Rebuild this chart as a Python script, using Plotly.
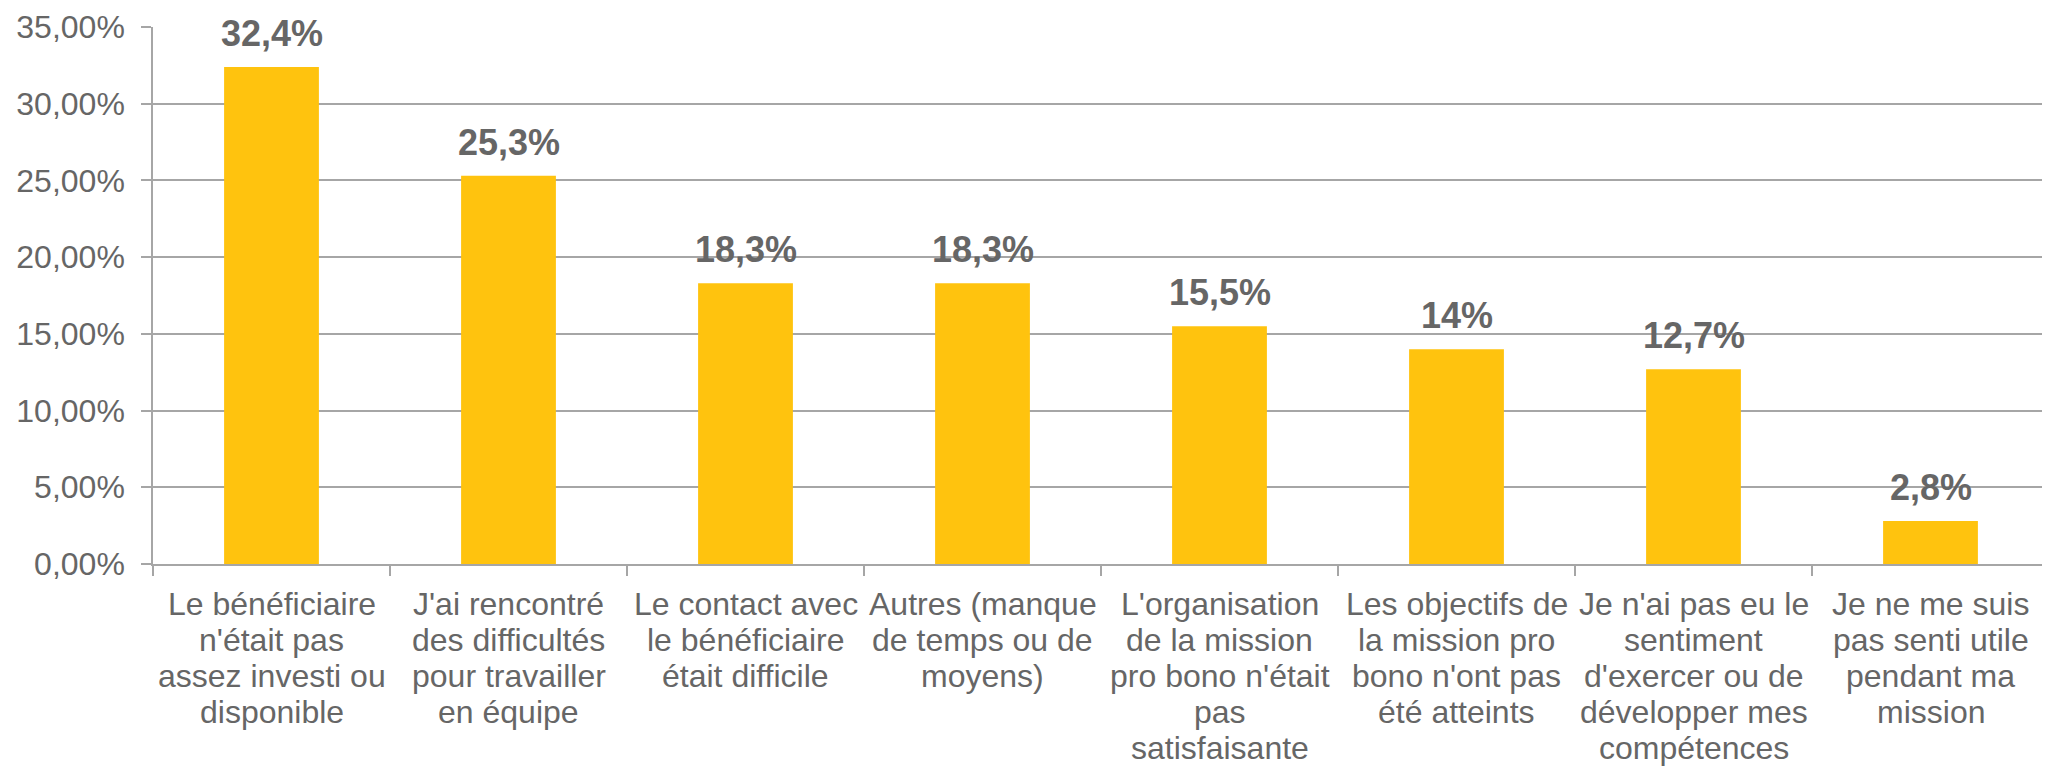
import plotly.graph_objects as go

categories = [
    "Le bénéficiaire<br>n'était pas<br>assez investi ou<br>disponible",
    "J'ai rencontré<br>des difficultés<br>pour travailler<br>en équipe",
    "Le contact avec<br>le bénéficiaire<br>était difficile",
    "Autres (manque<br>de temps ou de<br>moyens)",
    "L'organisation<br>de la mission<br>pro bono n'était<br>pas<br>satisfaisante",
    "Les objectifs de<br>la mission pro<br>bono n'ont pas<br>été atteints",
    "Je n'ai pas eu le<br>sentiment<br>d'exercer ou de<br>développer mes<br>compétences",
    "Je ne me suis<br>pas senti utile<br>pendant ma<br>mission",
]
values = [32.4, 25.3, 18.3, 18.3, 15.5, 14.0, 12.7, 2.8]
value_labels = ["32,4%", "25,3%", "18,3%", "18,3%", "15,5%", "14%", "12,7%", "2,8%"]
y_ticks = [0, 5, 10, 15, 20, 25, 30, 35]
y_tick_labels = ["0,00%", "5,00%", "10,00%", "15,00%", "20,00%", "25,00%", "30,00%", "35,00%"]

FONT = "Liberation Sans, Arial, sans-serif"
GRAY = "#666666"
LABEL_GRAY = "#666666"
LINE = "#A6A6A6"

fig = go.Figure(
    go.Bar(
        x=categories,
        y=values,
        marker=dict(color="#FFC30E", line=dict(width=0)),
        width=0.4,
        hoverinfo="skip",
    )
)

annotations = []
# value labels above bars
for cat, val, lab in zip(categories, values, value_labels):
    annotations.append(dict(
        x=cat, y=val, xref="x", yref="y",
        text="<b>" + lab + "</b>",
        showarrow=False, xanchor="center", yanchor="bottom", yshift=11,
        font=dict(family=FONT, size=36, color=LABEL_GRAY),
    ))
# category labels (one annotation per line for tight line spacing)
LINE_STEP = 36.0
for cat in categories:
    for i, part in enumerate(cat.split("<br>")):
        annotations.append(dict(
            x=cat, y=0, xref="x", yref="paper",
            text=part,
            showarrow=False, xanchor="center", yanchor="middle",
            yshift=-39.5 - LINE_STEP * i,
            font=dict(family=FONT, size=32, color=GRAY),
        ))

# the page body has an 8px default margin, so the figure is sized to fit the window
fig.update_layout(
    width=2042,
    height=759,
    margin=dict(l=145, r=1, t=19, b=203),
    plot_bgcolor="white",
    paper_bgcolor="white",
    showlegend=False,
    font=dict(family=FONT, color=GRAY, size=32),
    annotations=annotations,
)

fig.update_xaxes(
    type="category",
    tickson="boundaries",
    ticks="outside",
    ticklen=10,
    tickwidth=1.5,
    tickcolor=LINE,
    showline=True,
    linecolor=LINE,
    linewidth=1.5,
    showgrid=False,
    showticklabels=False,
    automargin=False,
)

fig.update_yaxes(
    range=[0, 35],
    tickvals=y_ticks,
    ticktext=y_tick_labels,
    ticks="outside",
    ticklen=10,
    tickwidth=1.5,
    tickcolor=LINE,
    showline=True,
    linecolor=LINE,
    linewidth=1.5,
    showgrid=True,
    gridcolor=LINE,
    gridwidth=1.5,
    zeroline=False,
    tickfont=dict(family=FONT, size=32, color=GRAY),
    ticklabelstandoff=10,
    automargin=False,
)

fig.write_html("out.html")
